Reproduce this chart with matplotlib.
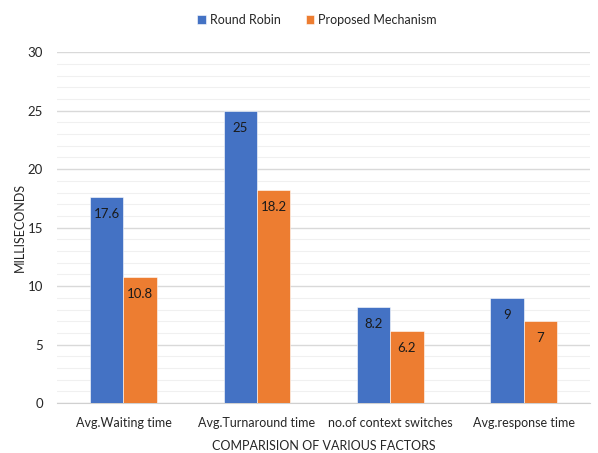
import numpy as np
import matplotlib.pyplot as plt
from matplotlib.ticker import MultipleLocator

plt.rcParams['font.family'] = ['Lato', 'DejaVu Sans']

# Data
factors = ['Avg.Waiting time', 'Avg.Turnaround time', 'no.of context switches', 'Avg.response time']
round_robin = [17.6, 25, 8.2, 9]
proposed = [10.8, 18.2, 6.2, 7]

blue = '#4472C4'
orange = '#ED7D31'

fig = plt.figure(figsize=(5.98, 4.53), dpi=100)
ax = fig.add_axes([0.095, 0.110, 0.892, 0.775])

x = np.arange(len(factors))
w = 0.25
b1 = ax.bar(x - w / 2, round_robin, w, color=blue, label='Round Robin', zorder=3,
            edgecolor='white', linewidth=0.4)
b2 = ax.bar(x + w / 2, proposed, w, color=orange, label='Proposed Mechanism', zorder=3,
            edgecolor='white', linewidth=0.4)

# value labels just inside the top of each bar
for bars, vals in [(b1, round_robin), (b2, proposed)]:
    for bar, v in zip(bars, vals):
        ax.text(bar.get_x() + bar.get_width() / 2, v - 1.45, f'{v:g}',
                ha='center', va='center', fontsize=9.5, color='#1a1a1a', zorder=4)

ax.set_xlim(-0.5, len(factors) - 0.5)
ax.set_ylim(0, 30)
ax.yaxis.set_major_locator(MultipleLocator(5))
ax.yaxis.set_minor_locator(MultipleLocator(1))
ax.grid(axis='y', which='major', color='#d9d9d9', linewidth=1.0, zorder=0)
ax.grid(axis='y', which='minor', color='#f0f0f0', linewidth=0.8, zorder=0)
ax.set_axisbelow(True)

for s in ['top', 'right', 'left']:
    ax.spines[s].set_visible(False)
ax.spines['bottom'].set_color('#d0d0d0')
ax.tick_params(axis='y', which='both', length=0, labelsize=9.5, colors='#262626', pad=10)
ax.tick_params(axis='x', which='both', length=0, labelsize=9, colors='#262626', pad=10)

ax.set_xticks(x)
ax.set_xticklabels(factors)
ax.set_ylabel('MILLISECONDS', fontsize=9, color='#262626', labelpad=1)
ax.set_xlabel('COMPARISION OF VARIOUS FACTORS', fontsize=9, color='#262626', labelpad=8)

fig.legend(loc='upper center', bbox_to_anchor=(0.53, 0.995), ncol=2, frameon=False,
           fontsize=9, handlelength=0.7, handleheight=0.7, columnspacing=2.0,
           handletextpad=0.3, labelcolor='#262626')

fig.savefig('out.png', dpi=100)
